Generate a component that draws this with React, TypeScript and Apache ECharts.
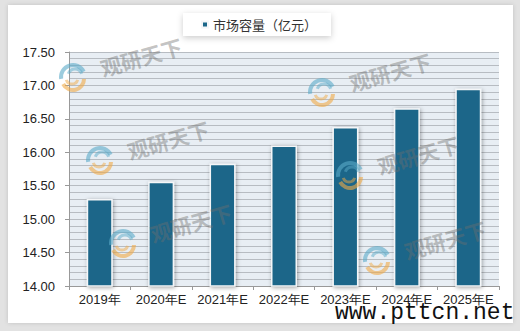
import React, { useEffect, useRef } from "react";
import * as echarts from "echarts";

const categories = ["2019年", "2020年E", "2021年E", "2022年E", "2023年E", "2024年E", "2025年E"];
const marketSize = [15.3, 15.56, 15.83, 16.1, 16.38, 16.66, 16.95];
const seriesName = "市场容量（亿元）";
const yMin = 14;
const yMax = 17.5;
const yStep = 0.5;

const logoSpots = [
  [73, 77],
  [100, 160],
  [123, 243],
  [322, 92],
  [350, 175],
  [377, 260],
];

function watermark(x: number, y: number) {
  return [
    {
      type: "arc",
      shape: { cx: x, cy: y, r: 12, startAngle: Math.PI * 0.95, endAngle: Math.PI * 1.85 },
      style: { stroke: "rgba(90,170,200,0.6)", lineWidth: 4, fill: "none" },
      z: 100,
    },
    {
      type: "arc",
      shape: { cx: x + 2, cy: y - 1, r: 7, startAngle: Math.PI * 1.1, endAngle: Math.PI * 1.9 },
      style: { stroke: "rgba(90,170,200,0.5)", lineWidth: 3, fill: "none" },
      z: 100,
    },
    {
      type: "arc",
      shape: { cx: x, cy: y + 2, r: 11, startAngle: Math.PI * 0.0, endAngle: Math.PI * 0.85 },
      style: { stroke: "rgba(240,170,70,0.6)", lineWidth: 4, fill: "none" },
      z: 100,
    },
    {
      type: "arc",
      shape: { cx: x - 1, cy: y + 1, r: 6, startAngle: Math.PI * 0.1, endAngle: Math.PI * 0.9 },
      style: { stroke: "rgba(240,170,70,0.5)", lineWidth: 3, fill: "none" },
      z: 100,
    },
    {
      type: "text",
      x: x + 68,
      y: y - 20,
      rotation: 0.28,
      style: {
        text: "观研天下",
        fill: "rgba(110,110,110,0.42)",
        font: "bold 21px 'Noto Sans CJK SC'",
        align: "center",
        verticalAlign: "middle",
      },
      z: 100,
    },
  ];
}

const gridLine = { color: "#b7bcc2", width: 1 };

export default function App() {
  const ref = useRef<HTMLDivElement>(null);
  useEffect(() => {
    if (!ref.current) return;
    const chart = echarts.init(ref.current, null, { renderer: "svg" });
    const wm: any[] = [];
    logoSpots.forEach(([x, y]) => wm.push(...watermark(x, y)));
    chart.setOption({
      animation: false,
      backgroundColor: "#e2e2e2",
      textStyle: { fontFamily: "'Liberation Sans', Arial, sans-serif" },
      graphic: [
        {
          type: "rect",
          shape: { x: 8, y: 5, width: 505, height: 318 },
          style: { fill: "#ffffff", shadowColor: "rgba(0,0,0,0.15)", shadowBlur: 4 },
          z: -10,
          silent: true,
        },
        ...wm,
        {
          type: "text",
          x: 335,
          y: 313,
          style: {
            text: "www.pttcn.net",
            fill: "#111",
            font: "23px 'Liberation Mono', monospace",
            verticalAlign: "middle",
          },
          z: 110,
        },
      ],
      legend: {
        data: [seriesName],
        left: 183,
        top: 13,
        padding: [5, 14, 5, 18],
        backgroundColor: "#ffffff",
        shadowColor: "rgba(0,0,0,0.2)",
        shadowBlur: 6,
        shadowOffsetY: 2,
        icon: "rect",
        itemWidth: 6,
        itemHeight: 6,
        itemGap: 6,
        textStyle: { fontSize: 13, color: "#333", fontFamily: "'Noto Sans CJK SC', sans-serif" },
      },
      grid: {
        left: 69,
        right: 21,
        top: 52,
        bottom: 45,
        show: true,
        backgroundColor: "#e8eef4",
        borderWidth: 0,
      },
      xAxis: {
        type: "category",
        data: categories,
        axisLine: { lineStyle: { color: "#999", width: 1 } },
        axisTick: { show: true, length: 4, lineStyle: { color: "#999" } },
        axisLabel: { fontSize: 13, color: "#222", margin: 7, interval: 0 },
      },
      yAxis: {
        type: "value",
        min: yMin,
        max: yMax,
        interval: yStep,
        axisLine: { show: true, lineStyle: { color: "#999" } },
        axisTick: { show: true, length: 4, lineStyle: { color: "#999" } },
        axisLabel: { fontSize: 13, color: "#222", margin: 14, formatter: (v: number) => v.toFixed(2) },
        splitLine: { show: true, lineStyle: gridLine },
        minorTick: { show: false, splitNumber: 5 },
        minorSplitLine: { show: true, lineStyle: gridLine },
      },
      series: [
        {
          name: seriesName,
          type: "bar",
          data: marketSize,
          barWidth: 26,
          itemStyle: {
            color: "#1b6689",
            borderColor: "#f4f6f8",
            borderWidth: 1.5,
            shadowColor: "rgba(0,0,0,0.35)",
            shadowBlur: 4,
            shadowOffsetX: 1,
            shadowOffsetY: 1,
          },
        },
      ],
    });
    return () => chart.dispose();
  }, []);
  return <div ref={ref} style={{ position: "fixed", left: 0, top: 0, width: 520, height: 331 }} />;
}
